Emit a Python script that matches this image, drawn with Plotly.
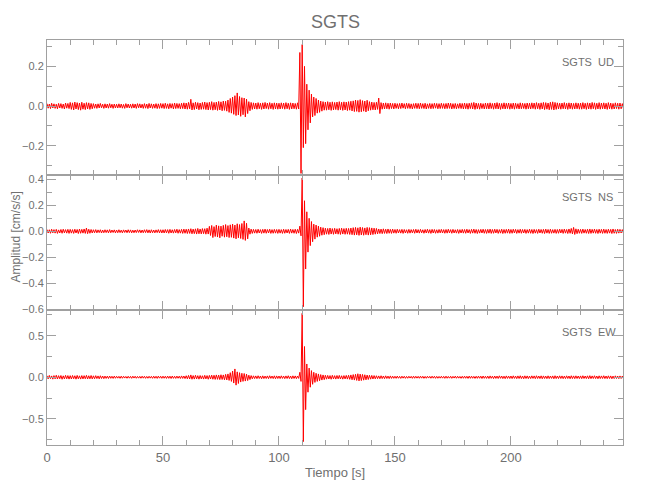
import numpy as np
import plotly.graph_objects as go
from plotly.subplots import make_subplots

# ---- data (thousandths of cm/s/s) : per-second band extremes ----
# time of each "hi" sample is t (s), each "lo" sample is t + 0.5 s
time_s = list(range(0, 249))
station = "SGTS"
components = ["UD", "NS", "EW"]

ud_hi = [12, 10, 14, 11, 9, 13, 12, 10, 15, 13,
         18, 16, 20, 17, 15, 19, 14, 17, 16, 13,
         12, 10, 11, 13, 9, 11, 10, 12, 9, 10,
         9, 11, 10, 8, 12, 10, 9, 11, 10, 12,
         11, 9, 12, 10, 13, 11, 10, 12, 11, 13,
         12, 14, 11, 13, 12, 15, 13, 12, 14, 16,
         15, 18, 34, 16, 19, 17, 15, 18, 20, 17,
         19, 22, 18, 20, 23, 21, 25, 24, 30, 38,
         45, 52, 66, 48, 42, 40, 35, 22, 18, 16,
         15, 17, 14, 16, 18, 15, 17, 14, 16, 15,
         14, 16, 15, 17, 14, 16, 15, 13, 16, 270,
         310, 200, 110, 80, 60, 45, 38, 30, 25, 22,
         20, 22, 19, 21, 18, 20, 22, 19, 21, 20,
         22, 24, 26, 30, 28, 32, 27, 25, 29, 22,
         20, 18, 19, 40, 17, 15, 16, 14, 15, 13,
         14, 12, 13, 15, 12, 14, 13, 11, 12, 14,
         13, 15, 12, 14, 11, 13, 12, 14, 13, 12,
         14, 12, 13, 15, 14, 12, 13, 11, 14, 13,
         15, 13, 14, 16, 18, 15, 13, 14, 12, 15,
         14, 16, 13, 15, 17, 14, 13, 16, 14, 15,
         13, 15, 14, 12, 16, 14, 13, 15, 14, 16,
         15, 17, 14, 16, 18, 17, 15, 19, 21, 18,
         16, 14, 15, 17, 14, 16, 15, 13, 16, 14,
         15, 17, 14, 16, 15, 18, 16, 14, 17, 15,
         16, 14, 17, 15, 13, 16, 14, 15, 12]
ud_lo = [-11, -13, -10, -12, -14, -10, -12, -15, -11, -13,
         -17, -20, -15, -18, -21, -16, -18, -15, -17, -14,
         -11, -12, -10, -9, -12, -10, -11, -9, -12, -10,
         -10, -9, -11, -12, -9, -10, -11, -10, -12, -9,
         -10, -12, -11, -13, -10, -12, -11, -13, -12, -11,
         -13, -12, -14, -11, -15, -13, -12, -14, -13, -15,
         -16, -14, -20, -18, -15, -19, -17, -16, -18, -20,
         -18, -21, -19, -22, -20, -24, -22, -26, -32, -36,
         -42, -48, -45, -52, -44, -55, -38, -24, -17, -15,
         -16, -14, -17, -15, -13, -16, -14, -17, -15, -16,
         -15, -13, -16, -14, -17, -15, -14, -16, -15, -340,
         -210, -190, -120, -85, -55, -48, -36, -32, -26, -21,
         -21, -19, -22, -20, -18, -21, -19, -22, -20, -23,
         -21, -25, -28, -27, -31, -29, -26, -30, -24, -21,
         -19, -20, -17, -38, -16, -15, -14, -16, -13, -15,
         -12, -14, -13, -11, -14, -12, -13, -15, -12, -13,
         -14, -12, -13, -15, -12, -14, -13, -11, -14, -13,
         -12, -14, -13, -12, -15, -13, -14, -12, -13, -15,
         -14, -16, -13, -15, -17, -14, -16, -13, -15, -14,
         -15, -13, -16, -14, -15, -17, -14, -15, -13, -16,
         -14, -16, -13, -15, -14, -13, -16, -14, -15, -13,
         -16, -14, -17, -15, -18, -16, -19, -17, -20, -17,
         -15, -16, -14, -15, -17, -14, -16, -15, -14, -16,
         -16, -14, -17, -15, -16, -14, -17, -15, -16, -14,
         -15, -17, -14, -16, -15, -13, -16, -14, -13]

ns_hi = [14, 12, 16, 13, 15, 11, 14, 16, 13, 15,
         15, 13, 16, 14, 17, 15, 18, 25, 16, 14,
         12, 13, 11, 12, 10, 12, 11, 13, 10, 11,
         10, 12, 9, 11, 10, 12, 11, 9, 10, 12,
         11, 10, 12, 13, 11, 12, 10, 11, 13, 12,
         12, 14, 13, 15, 12, 14, 16, 13, 15, 17,
         16, 18, 20, 17, 19, 22, 18, 21, 20, 24,
         38, 45, 36, 48, 42, 40, 46, 52, 44, 50,
         55, 48, 58, 52, 60, 80, 62, 25, 17, 15,
         14, 16, 13, 15, 17, 14, 16, 13, 15, 14,
         15, 13, 16, 14, 15, 17, 14, 16, 15, 40,
         410, 235, 150, 100, 75, 55, 48, 40, 32, 28,
         24, 22, 25, 21, 23, 20, 22, 24, 21, 23,
         22, 25, 28, 30, 27, 32, 29, 26, 30, 28,
         26, 24, 22, 18, 17, 19, 16, 18, 15, 17,
         14, 16, 13, 15, 14, 12, 15, 13, 14, 16,
         13, 15, 12, 14, 16, 13, 15, 14, 12, 14,
         15, 13, 14, 16, 13, 15, 12, 14, 13, 15,
         14, 16, 13, 15, 17, 14, 13, 15, 16, 14,
         15, 17, 14, 16, 15, 13, 16, 14, 15, 17,
         14, 16, 15, 13, 16, 14, 15, 13, 16, 14,
         15, 13, 16, 14, 15, 17, 14, 16, 13, 15,
         14, 16, 15, 17, 14, 18, 22, 30, 19, 16,
         15, 17, 14, 16, 18, 15, 17, 14, 16, 15,
         17, 14, 16, 15, 18, 14, 16, 15, 13]
ns_lo = [-13, -15, -12, -14, -16, -13, -15, -12, -14, -16,
         -14, -16, -13, -17, -15, -14, -16, -18, -15, -13,
         -11, -12, -10, -13, -11, -10, -12, -11, -9, -12,
         -11, -10, -12, -9, -11, -10, -12, -11, -10, -9,
         -12, -11, -10, -12, -13, -11, -12, -10, -12, -13,
         -13, -12, -15, -13, -14, -12, -15, -14, -16, -15,
         -17, -16, -19, -18, -21, -19, -20, -18, -22, -21,
         -32, -48, -40, -44, -50, -38, -45, -42, -48, -46,
         -52, -58, -50, -55, -62, -70, -58, -22, -16, -14,
         -15, -13, -16, -14, -15, -13, -16, -15, -14, -16,
         -14, -16, -15, -13, -16, -14, -15, -17, -14, -35,
         -580, -290, -160, -110, -80, -60, -45, -38, -30, -26,
         -22, -24, -21, -23, -20, -22, -24, -21, -23, -22,
         -24, -26, -29, -27, -31, -28, -30, -26, -29, -27,
         -25, -22, -20, -17, -18, -16, -17, -15, -16, -14,
         -15, -13, -14, -16, -13, -15, -14, -12, -15, -13,
         -14, -12, -15, -13, -14, -16, -13, -15, -14, -12,
         -13, -15, -14, -12, -15, -13, -14, -16, -13, -14,
         -15, -13, -16, -14, -15, -17, -14, -13, -15, -16,
         -14, -16, -15, -13, -16, -14, -17, -15, -14, -16,
         -15, -13, -16, -14, -15, -13, -16, -14, -15, -17,
         -14, -16, -13, -15, -17, -14, -16, -15, -14, -16,
         -15, -13, -16, -14, -17, -15, -20, -24, -18, -15,
         -16, -14, -15, -17, -16, -14, -15, -17, -14, -16,
         -15, -16, -14, -17, -15, -16, -14, -13, -15]

ew_hi = [18, 22, 16, 20, 24, 19, 21, 17, 23, 20,
         19, 21, 18, 22, 17, 20, 19, 23, 18, 21,
         17, 19, 16, 18, 15, 14, 13, 15, 12, 14,
         12, 11, 13, 12, 10, 12, 11, 13, 12, 10,
         11, 13, 12, 10, 12, 11, 13, 12, 14, 12,
         13, 12, 14, 13, 15, 12, 14, 13, 16, 15,
         18, 22, 28, 20, 24, 19, 21, 18, 23, 20,
         22, 25, 24, 28, 26, 30, 28, 35, 40, 55,
         75, 100, 65, 55, 48, 45, 38, 25, 20, 17,
         16, 18, 15, 17, 14, 16, 18, 15, 17, 16,
         15, 17, 14, 16, 18, 15, 17, 16, 15, 60,
         770, 370, 160, 110, 80, 60, 48, 40, 32, 28,
         24, 22, 20, 23, 19, 21, 22, 18, 20, 22,
         24, 28, 32, 36, 42, 38, 34, 30, 26, 24,
         22, 20, 18, 16, 18, 15, 17, 14, 16, 13,
         12, 14, 11, 13, 12, 10, 12, 11, 13, 12,
         11, 13, 12, 10, 12, 11, 13, 12, 11, 10,
         12, 11, 13, 10, 12, 11, 13, 12, 10, 12,
         13, 12, 14, 13, 11, 12, 14, 13, 15, 12,
         14, 16, 13, 15, 14, 17, 15, 13, 16, 14,
         15, 17, 14, 16, 18, 15, 17, 16, 14, 17,
         16, 18, 15, 17, 16, 14, 17, 15, 16, 18,
         15, 17, 16, 14, 17, 15, 18, 16, 17, 15,
         16, 18, 15, 17, 19, 16, 18, 15, 17, 16,
         18, 15, 17, 16, 14, 17, 15, 16, 14]
ew_lo = [-20, -17, -23, -19, -21, -18, -24, -20, -19, -22,
         -21, -18, -23, -19, -22, -20, -18, -21, -19, -20,
         -18, -16, -19, -15, -17, -14, -15, -13, -14, -12,
         -11, -13, -12, -10, -12, -11, -13, -10, -12, -11,
         -12, -11, -13, -12, -11, -13, -12, -14, -11, -13,
         -12, -14, -13, -15, -13, -14, -12, -15, -14, -16,
         -19, -21, -24, -22, -20, -23, -19, -22, -20, -24,
         -21, -24, -26, -25, -28, -27, -31, -33, -38, -50,
         -70, -95, -75, -58, -50, -46, -40, -28, -19, -16,
         -17, -15, -18, -16, -15, -17, -14, -16, -18, -15,
         -16, -14, -17, -15, -16, -18, -15, -17, -14, -50,
         -775, -390, -180, -120, -85, -62, -50, -42, -34, -29,
         -23, -21, -24, -20, -22, -19, -21, -23, -20, -22,
         -25, -30, -34, -38, -44, -40, -35, -31, -27, -23,
         -21, -19, -17, -18, -16, -17, -15, -16, -14, -13,
         -13, -12, -14, -11, -13, -12, -10, -13, -12, -11,
         -12, -11, -13, -12, -10, -12, -11, -13, -12, -11,
         -11, -13, -12, -11, -13, -10, -12, -11, -13, -12,
         -12, -14, -13, -12, -14, -13, -12, -15, -13, -14,
         -15, -13, -16, -14, -15, -13, -16, -17, -14, -15,
         -16, -14, -17, -15, -16, -18, -15, -17, -16, -14,
         -17, -15, -16, -18, -15, -17, -16, -14, -18, -16,
         -16, -15, -17, -16, -15, -18, -16, -17, -15, -16,
         -17, -15, -16, -18, -17, -15, -16, -18, -16, -15,
         -16, -17, -15, -18, -16, -15, -17, -15, -16]

y_ranges = [[-0.348, 0.333], [-0.605, 0.433], [-0.816, 0.81]]
y_dticks = [0.2, 0.2, 0.5]
y_minor = [0.1, 0.1, 0.25]

FONT = "Liberation Sans, Arial, sans-serif"
TXT = "#707070"
LINE = "#a0a0a0"

fig = make_subplots(rows=3, cols=1, shared_xaxes=True, vertical_spacing=0)

series = [(ud_hi, ud_lo), (ns_hi, ns_lo), (ew_hi, ew_lo)]
for i, (hi, lo) in enumerate(series):
    n = min(len(time_s), len(hi), len(lo))
    t = np.array(time_s[:n], dtype=float)
    xs = np.column_stack([t, t + 0.5]).ravel()
    ys = np.column_stack([np.array(hi[:n]), np.array(lo[:n])]).ravel() / 1000.0
    fig.add_trace(go.Scatter(x=xs, y=ys, mode="lines",
                             line=dict(color="#ff0000", width=1),
                             hoverinfo="skip", showlegend=False),
                  row=i + 1, col=1)

axis_common = dict(showline=True, linecolor=LINE, linewidth=1, mirror="allticks",
                   ticks="inside", ticklen=9, tickcolor=LINE, tickwidth=1,
                   showgrid=False, zeroline=False)

for i in range(3):
    fig.update_yaxes(range=y_ranges[i], dtick=y_dticks[i], tick0=0, tickformat=".1f",
                     tickfont=dict(family=FONT, size=11, color=TXT),
                     minor=dict(dtick=y_minor[i], ticks="inside", ticklen=5,
                                tickcolor=LINE, showgrid=False),
                     row=i + 1, col=1, **axis_common)
    fig.update_xaxes(range=[0, 248.3], dtick=50, tick0=0,
                     tickfont=dict(family=FONT, size=13, color=TXT),
                     minor=dict(dtick=10, ticks="inside", ticklen=5,
                                tickcolor=LINE, showgrid=False),
                     row=i + 1, col=1, **axis_common)

annotations = []
for i, comp in enumerate(components):
    xr = "x domain" if i == 0 else f"x{i+1} domain"
    yr = "y domain" if i == 0 else f"y{i+1} domain"
    for label, shift in ((station, -62.6), (comp, -26.6)):
        annotations.append(dict(text=label, xref=xr, yref=yr, x=1, y=1,
                                xanchor="left", yanchor="middle",
                                xshift=shift, yshift=-21.7, showarrow=False,
                                font=dict(family=FONT, size=11, color=TXT)))

annotations.append(dict(text=station, xref="paper", yref="paper", x=0.5, y=1,
                        xanchor="center", yanchor="middle", yshift=18, showarrow=False,
                        font=dict(family=FONT, size=18, color=TXT)))
annotations.append(dict(text="Amplitud [cm/s/s]", xref="paper", yref="paper", x=0, y=0.5,
                        xanchor="center", yanchor="middle", xshift=-32, yshift=5,
                        textangle=-90, showarrow=False,
                        font=dict(family=FONT, size=12, color=TXT)))
annotations.append(dict(text="Tiempo [s]", xref="paper", yref="paper", x=0.5, y=0,
                        xanchor="center", yanchor="middle", yshift=-27, showarrow=False,
                        font=dict(family=FONT, size=13, color=TXT)))

# the page adds an 8 px body margin, so the margins are reduced by that offset
fig.update_layout(width=650, height=500,
                  margin=dict(l=39, r=35, t=32, b=63),
                  paper_bgcolor="white", plot_bgcolor="white",
                  annotations=annotations, showlegend=False)

fig.write_html("out.html")
